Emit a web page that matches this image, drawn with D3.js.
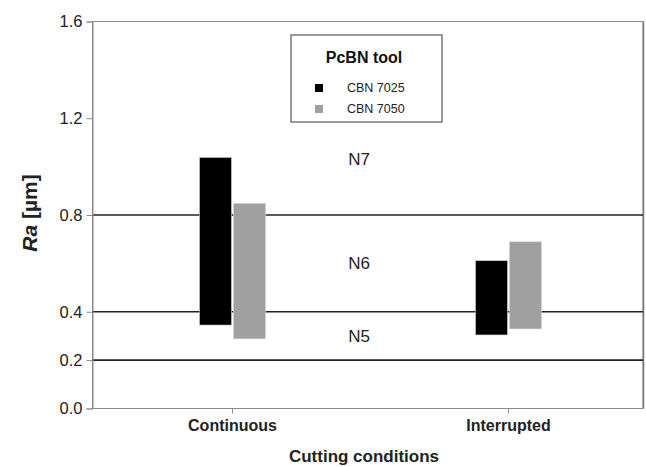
<!DOCTYPE html>
<html>
<head>
<meta charset="utf-8">
<script src="https://cdn.jsdelivr.net/npm/d3@7"></script>
<style>
  body { margin: 0; background: #fff; }
  svg { font-family: "Liberation Sans", Arial, sans-serif; }
</style>
</head>
<body>
<svg id="chart" width="646" height="467"></svg>
<script>
// chart data
const conditions = ["Continuous", "Interrupted"];
const tools = ["CBN 7025", "CBN 7050"];
const toolColors = ["#000000", "#a0a0a0"];
const cbn7025Low = [0.345, 0.304];
const cbn7025High = [1.038, 0.611];
const cbn7050Low = [0.288, 0.329];
const cbn7050High = [0.848, 0.689];
const yTicks = [0.0, 0.2, 0.4, 0.8, 1.2, 1.6];
const classLines = [0.2, 0.4, 0.8];
const classLabels = ["N5", "N6", "N7"];
const classLabelAt = [0.3, 0.6, 1.03];

const svg = d3.select('#chart');
const margin = {left: 92.5, right: 3, top: 21.5, bottom: 58.5};
const width = +svg.attr('width');
const height = +svg.attr('height');

const x = d3.scalePoint()
  .domain(conditions)
  .range([232, 508]);

const y = d3.scaleLinear()
  .domain([0, 1.6])
  .range([height - margin.bottom, margin.top]);

const barW = 32;
const bars = [];
conditions.forEach((c, i) => {
  bars.push({cond: c, tool: 0, lo: cbn7025Low[i], hi: cbn7025High[i]});
  bars.push({cond: c, tool: 1, lo: cbn7050Low[i], hi: cbn7050High[i]});
});

// frame
svg.append('rect')
  .attr('x', margin.left)
  .attr('y', margin.top)
  .attr('width', width - margin.right - margin.left)
  .attr('height', y(0) - margin.top)
  .attr('fill', 'none')
  .attr('stroke', '#8a8a8a')
  .attr('stroke-width', 1);
svg.append('line')
  .attr('x1', width - margin.right + 0.5).attr('x2', width - margin.right + 0.5)
  .attr('y1', margin.top).attr('y2', y(0))
  .attr('stroke', '#777').attr('stroke-width', 1.5);

// roughness class lines
svg.append('g')
  .selectAll('line')
  .data(classLines)
  .enter().append('line')
  .attr('x1', margin.left)
  .attr('x2', width - margin.right)
  .attr('y1', d => y(d))
  .attr('y2', d => y(d))
  .attr('stroke', '#222')
  .attr('stroke-width', 1.6);

// bars
svg.append('g')
  .selectAll('rect')
  .data(bars)
  .enter().append('rect')
  .attr('x', d => d.tool === 0 ? x(d.cond) - barW - 0.5 : x(d.cond) + 1.5)
  .attr('y', d => y(d.hi))
  .attr('width', barW)
  .attr('height', d => y(d.lo) - y(d.hi))
  .attr('fill', d => toolColors[d.tool])
  .attr('stroke', '#d0d0d0')
  .attr('stroke-width', 0.6);

// class labels
svg.append('g')
  .selectAll('text')
  .data(classLabels)
  .enter().append('text')
  .attr('x', 359)
  .attr('y', (d, i) => y(classLabelAt[i]))
  .attr('dy', '0.35em')
  .attr('text-anchor', 'middle')
  .attr('font-size', 17)
  .attr('fill', '#222')
  .text(d => d);

// y axis
const yAxis = svg.append('g')
  .attr('transform', `translate(${margin.left},0)`)
  .call(d3.axisLeft(y).tickValues(yTicks).tickFormat(d3.format('.1f')).tickSize(6).tickPadding(4));
yAxis.select('.domain').attr('stroke', '#8a8a8a');
yAxis.selectAll('.tick line').attr('stroke', '#8a8a8a');
yAxis.selectAll('.tick text')
  .attr('font-size', 16.5)
  .attr('font-family', '"Liberation Sans", Arial, sans-serif')
  .attr('fill', '#222');

// x axis
const xAxis = svg.append('g')
  .attr('transform', `translate(0,${y(0)})`)
  .call(d3.axisBottom(x).tickSize(5).tickPadding(6));
xAxis.select('.domain').remove();
xAxis.selectAll('.tick line').attr('stroke', '#8a8a8a');
xAxis.selectAll('.tick text')
  .attr('font-size', 16)
  .attr('font-weight', 'bold')
  .attr('font-family', '"Liberation Sans", Arial, sans-serif')
  .attr('fill', '#222');

// axis titles
svg.append('text')
  .attr('x', 364)
  .attr('y', 462)
  .attr('text-anchor', 'middle')
  .attr('font-size', 17)
  .attr('font-weight', 'bold')
  .attr('fill', '#222')
  .text('Cutting conditions');

const yTitle = svg.append('text')
  .attr('transform', 'translate(37,213) rotate(-90)')
  .attr('text-anchor', 'middle')
  .attr('font-size', 21)
  .attr('font-weight', 'bold')
  .attr('fill', '#222');
yTitle.append('tspan').attr('font-style', 'italic').text('Ra');
yTitle.append('tspan').text(' [µm]');

// legend
const legend = svg.append('g');
legend.append('rect')
  .attr('x', 291).attr('y', 35)
  .attr('width', 151).attr('height', 87)
  .attr('fill', '#fff')
  .attr('stroke', '#555')
  .attr('stroke-width', 1.2);
legend.append('text')
  .attr('x', 364).attr('y', 63)
  .attr('text-anchor', 'middle')
  .attr('font-size', 16)
  .attr('font-weight', 'bold')
  .attr('fill', '#111')
  .text('PcBN tool');
const item = legend.selectAll('g.item')
  .data(tools)
  .enter().append('g')
  .attr('class', 'item')
  .attr('transform', (d, i) => `translate(0,${88 + i * 21})`);
item.append('rect')
  .attr('x', 315).attr('y', -4)
  .attr('width', 8).attr('height', 8)
  .attr('fill', (d, i) => toolColors[i]);
item.append('text')
  .attr('x', 347).attr('y', 0)
  .attr('dy', '0.35em')
  .attr('font-size', 12.5)
  .attr('fill', '#222')
  .text(d => d);
</script>
</body>
</html>
